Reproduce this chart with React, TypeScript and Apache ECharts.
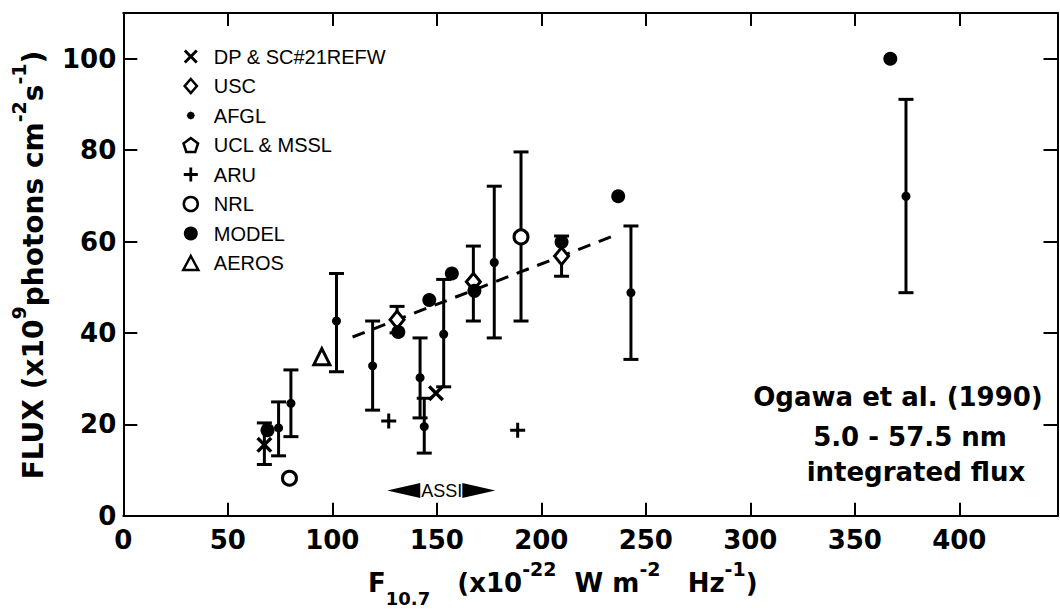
import React, { useEffect, useRef } from 'react';
import * as echarts from 'echarts';

// ---------- data ----------
const xTickInterval = 50;
const yTickInterval = 20;
const xMax = 447;
const yMax = 110;

// [F10.7, flux]
const dpPoints = [[67.5, 15.5], [149.6, 26.8]];
const uscPoints = [[131, 42.9], [167.5, 51.2], [209.7, 56.8]];
const afglPoints = [
  [74.3, 19.2], [80.2, 24.6], [102, 42.6], [119.3, 32.8], [142, 30.2],
  [144, 19.5], [153.3, 39.7], [177.5, 55.4], [242.9, 48.8], [374.5, 69.9],
];
const uclPoints: number[][] = [];
const aruPoints = [[127, 20.7], [188.7, 18.7]];
const nrlPoints = [[79.5, 8.2], [190.3, 61.0]];
const modelPoints = [
  [69, 18.7], [131.6, 40.2], [146.4, 47.2], [157.2, 53.0],
  [168, 49.2], [209.7, 59.9], [236.8, 69.9], [367, 100],
];
const aerosPoints = [[95, 34.8]];

// [x, low, high]
const errorBars = [
  [67.5, 11.2, 20.3], [74.3, 13.1, 24.9], [80.2, 17.3, 31.9], [102, 31.5, 53.0],
  [119.3, 23.1, 42.6], [131, 40.0, 45.8], [142, 21.4, 38.9], [144, 13.7, 25.7],
  [153.3, 28.2, 51.7], [167.5, 42.6, 59.0], [177.5, 38.9, 72.1], [190.3, 42.6, 79.6],
  [209.7, 52.4, 61.2], [242.9, 34.2, 63.4], [374.5, 48.8, 91.1],
];

const fitX = [109.7, 233.3];
const fitY = [39.1, 61.0];

const assiArrowX = [134.2, 170.1];
const assiLabelX = 152.4;
const assiY = 5.5;

const seriesNames = ['DP & SC#21REFW', 'USC', 'AFGL', 'UCL & MSSL', 'ARU', 'NRL', 'MODEL', 'AEROS'];

// ---------- symbols ----------
const X_PATH = 'path://M1.5,0L5,3.5L8.5,0L10,1.5L6.5,5L10,8.5L8.5,10L5,6.5L1.5,10L0,8.5L3.5,5L0,1.5Z';
const PLUS_PATH = 'path://M4,0H6V4H10V6H6V10H4V6H0V4H4Z';
const PENT_PATH = 'path://M7,0L14,5.2L11.3,13.5L2.7,13.5L0,5.2Z';
const DIAMOND_PATH = 'path://M7,0L14,8L7,16L0,8Z';
const TRI_PATH = 'path://M7,0L14,13L0,13Z';
const SMALLDOT_PATH = 'path://M0,0M14,14M7,3L9.8,4.2L11,7L9.8,9.8L7,11L4.2,9.8L3,7L4.2,4.2Z';

const FONT = 'DejaVu Sans';
const BLACK = '#000';
const hollow = { color: '#fff', borderColor: BLACK, borderWidth: 3, opacity: 1 };
const filled = { color: BLACK, borderColor: BLACK, borderWidth: 0, opacity: 1 };

export default function App() {
  const ref = useRef<HTMLDivElement>(null);

  useEffect(() => {
    document.body.style.margin = '0';
    const chart = echarts.init(ref.current!, null, { renderer: 'svg' });

    const axisLineStyle = { color: BLACK, width: 2 };
    const mkX = (pos: 'bottom' | 'top', labels: boolean) => ({
      type: 'value', min: 0, max: xMax, interval: xTickInterval, position: pos,
      axisLine: { show: true, onZero: false, lineStyle: axisLineStyle },
      axisTick: { show: true, inside: true, length: 13, lineStyle: { color: BLACK, width: 2 } },
      axisLabel: {
        show: labels, showMaxLabel: false, margin: 11, fontSize: 26, fontWeight: 'bold',
        fontFamily: FONT, color: BLACK,
      },
      splitLine: { show: false },
    });
    const mkY = (pos: 'left' | 'right', labels: boolean) => ({
      type: 'value', min: 0, max: yMax, interval: yTickInterval, position: pos,
      axisLine: { show: true, onZero: false, lineStyle: axisLineStyle },
      axisTick: { show: true, inside: true, length: 14, lineStyle: { color: BLACK, width: 2 } },
      axisLabel: {
        show: labels, showMaxLabel: false, margin: 7, fontSize: 26, fontWeight: 'bold',
        fontFamily: FONT, color: BLACK,
      },
      splitLine: { show: false },
    });

    const scatter = (name: string, data: number[][], symbol: string, size: any, style: any, z = 3) => ({
      type: 'scatter', name, data, symbol, symbolSize: size, itemStyle: style, z, silent: true,
    });

    const yRich = {
      m: { fontSize: 28, fontFamily: FONT, fontWeight: 'bold', lineHeight: 48, fill: BLACK },
      sup: { fontSize: 19, fontFamily: FONT, fontWeight: 'bold', lineHeight: 18, verticalAlign: 'top', fill: BLACK },
    };
    const xRich = {
      m: { fontSize: 26, fontFamily: FONT, fontWeight: 'bold', lineHeight: 48, fill: BLACK },
      sup: { fontSize: 19, fontFamily: FONT, fontWeight: 'bold', lineHeight: 16, verticalAlign: 'top', fill: BLACK },
      sub: { fontSize: 18, fontFamily: FONT, fontWeight: 'bold', lineHeight: 26, verticalAlign: 'bottom', fill: BLACK },
    };
    const annoStyle = { fontSize: 26, fontFamily: FONT, fontWeight: 'bold', fill: BLACK, align: 'center', verticalAlign: 'middle' };

    chart.setOption({
      animation: false,
      textStyle: { fontFamily: FONT },
      grid: { left: 123.3, right: 2.5, top: 13, bottom: 93.3, containLabel: false },
      xAxis: [mkX('bottom', true), mkX('top', false)],
      yAxis: [mkY('left', true), mkY('right', false)],
      legend: {
        orient: 'vertical', left: 177, top: 41.5, itemWidth: 36, itemHeight: 14, itemGap: 9.5,
        selectedMode: false, symbolKeepAspect: true,
        textStyle: { fontSize: 20, fontFamily: 'Liberation Sans', color: BLACK, lineHeight: 20 },
        data: [
          { name: seriesNames[0], icon: X_PATH, itemStyle: filled },
          { name: seriesNames[1], icon: DIAMOND_PATH, itemStyle: { ...hollow, borderWidth: 2.5 } },
          { name: seriesNames[2], icon: SMALLDOT_PATH, itemStyle: filled },
          { name: seriesNames[3], icon: PENT_PATH, itemStyle: { ...hollow, borderWidth: 2.5 } },
          { name: seriesNames[4], icon: PLUS_PATH, itemStyle: filled },
          { name: seriesNames[5], icon: 'circle', itemStyle: { ...hollow, borderWidth: 2.5 } },
          { name: seriesNames[6], icon: 'circle', itemStyle: filled },
          { name: seriesNames[7], icon: TRI_PATH, itemStyle: { ...hollow, borderWidth: 2.5 } },
        ],
      },
      graphic: [
        {
          type: 'text', x: 33, y: 265, rotation: Math.PI / 2, silent: true,
          style: {
            text: '{m|FLUX (x10}{sup|9}{m|photons cm}{sup|-2}{m|s}{sup|-1}{m|)}',
            rich: yRich, align: 'center', verticalAlign: 'middle',
          },
        },
        {
          type: 'text', x: 368, y: 583, silent: true,
          style: {
            text: '{m|F}{sub|10.7}{m|   (x10}{sup|-22}{m|  W m}{sup|-2}{m|   Hz}{sup|-1}{m|)}',
            rich: xRich, align: 'left', verticalAlign: 'middle',
          },
        },
        { type: 'text', x: 898, y: 397, silent: true, style: { ...annoStyle, text: 'Ogawa et al. (1990)' } },
        { type: 'text', x: 910, y: 437, silent: true, style: { ...annoStyle, text: '5.0 - 57.5 nm' } },
        { type: 'text', x: 916, y: 472, silent: true, style: { ...annoStyle, text: 'integrated flux' } },
      ],
      series: [
        {
          type: 'custom', name: 'error bars', data: errorBars, z: 1, silent: true,
          encode: { x: 0, y: [1, 2] },
          renderItem: (_params: any, api: any) => {
            const x = api.value(0);
            const top = api.coord([x, api.value(2)]);
            const bot = api.coord([x, api.value(1)]);
            const w = 7.5;
            const style = { stroke: BLACK, lineWidth: 3 };
            return {
              type: 'group',
              children: [
                { type: 'line', shape: { x1: top[0], y1: top[1], x2: bot[0], y2: bot[1] }, style },
                { type: 'line', shape: { x1: top[0] - w, y1: top[1], x2: top[0] + w, y2: top[1] }, style },
                { type: 'line', shape: { x1: bot[0] - w, y1: bot[1], x2: bot[0] + w, y2: bot[1] }, style },
              ],
            };
          },
        },
        {
          type: 'line', name: 'fit', data: fitX.map((x, i) => [x, fitY[i]]), symbol: 'none', z: 2, silent: true,
          lineStyle: { color: BLACK, width: 3, type: [13, 9], opacity: 1 },
        },
        scatter(seriesNames[0], dpPoints, X_PATH, 16, filled, 3),
        scatter(seriesNames[1], uscPoints, 'diamond', [14, 17], hollow, 3),
        scatter(seriesNames[2], afglPoints, 'circle', 9, filled, 4),
        scatter(seriesNames[3], uclPoints, PENT_PATH, 13, hollow, 3),
        scatter(seriesNames[4], aruPoints, PLUS_PATH, 15, filled, 3),
        scatter(seriesNames[5], nrlPoints, 'circle', 14, hollow, 3),
        scatter(seriesNames[6], modelPoints, 'circle', 14, filled, 5),
        scatter(seriesNames[7], aerosPoints, 'triangle', 16, hollow, 3),
        {
          type: 'scatter', name: 'ASSI arrows', symbol: 'triangle', symbolSize: [15, 33], silent: true,
          itemStyle: filled, z: 3,
          data: [
            { value: [assiArrowX[0], assiY], symbolRotate: 90 },
            { value: [assiArrowX[1], assiY], symbolRotate: -90 },
          ],
        },
        {
          type: 'scatter', name: 'ASSI label', symbolSize: 1, silent: true,
          itemStyle: { color: 'rgba(0,0,0,0)', opacity: 1 }, z: 4,
          data: [[assiLabelX, assiY]],
          label: {
            show: true, position: 'inside', formatter: 'ASSI', fontSize: 18,
            fontFamily: 'Liberation Sans', color: BLACK,
          },
        },
      ],
    });

    return () => chart.dispose();
  }, []);

  return <div ref={ref} style={{ width: 1060, height: 609 }} />;
}
